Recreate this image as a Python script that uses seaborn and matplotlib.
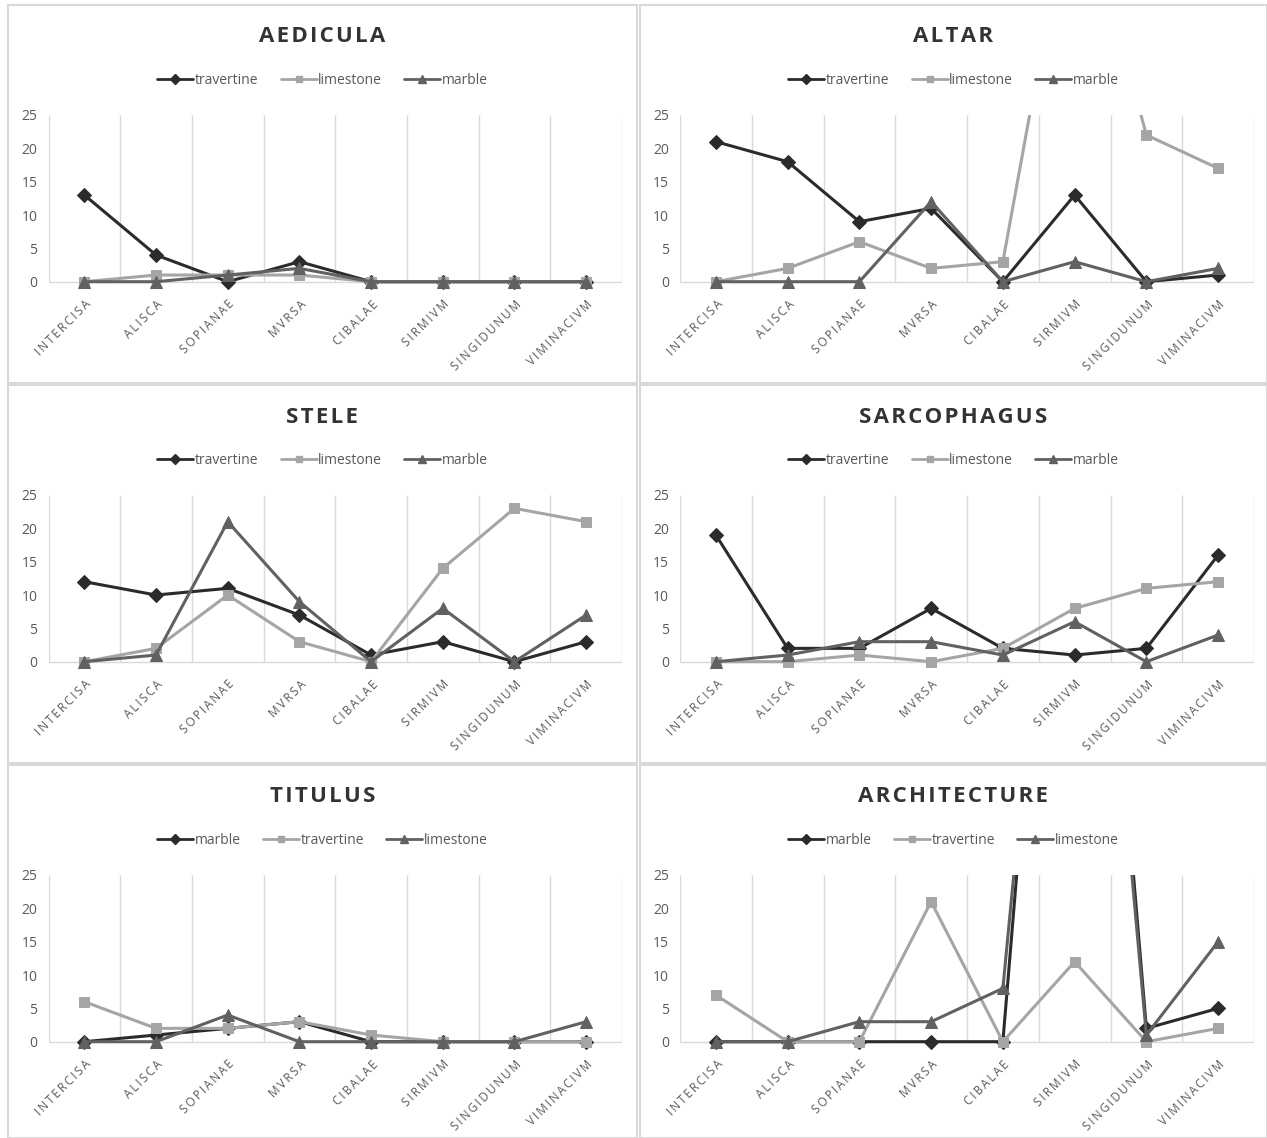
import pandas as pd
import matplotlib.pyplot as plt
import seaborn as sns
from matplotlib.lines import Line2D
from matplotlib.patches import Rectangle

sns.set_theme(style="white")
plt.rcParams['font.family'] = ['Open Sans', 'DejaVu Sans']

sites = ["INTERCISA", "ALISCA", "SOPIANAE", "MVRSA", "CIBALAE", "SIRMIVM", "SINGIDUNUM", "VIMINACIVM"]

aedicula_travertine = [13, 4, 0, 3, 0, 0, 0, 0]
aedicula_limestone = [0, 1, 1, 1, 0, 0, 0, 0]
aedicula_marble = [0, 0, 1, 2, 0, 0, 0, 0]

altar_travertine = [21, 18, 9, 11, 0, 13, 0, 1]
altar_limestone = [0, 2, 6, 2, 3, 62, 22, 17]
altar_marble = [0, 0, 0, 12, 0, 3, 0, 2]

stele_travertine = [12, 10, 11, 7, 1, 3, 0, 3]
stele_limestone = [0, 2, 10, 3, 0, 14, 23, 21]
stele_marble = [0, 1, 21, 9, 0, 8, 0, 7]

sarcophagus_travertine = [19, 2, 2, 8, 2, 1, 2, 16]
sarcophagus_limestone = [0, 0, 1, 0, 2, 8, 11, 12]
sarcophagus_marble = [0, 1, 3, 3, 1, 6, 0, 4]

titulus_marble = [0, 1, 2, 3, 0, 0, 0, 0]
titulus_travertine = [6, 2, 2, 3, 1, 0, 0, 0]
titulus_limestone = [0, 0, 4, 0, 0, 0, 0, 3]

architecture_marble = [0, 0, 0, 0, 0, 130, 2, 5]
architecture_travertine = [7, 0, 0, 21, 0, 12, 0, 2]
architecture_limestone = [0, 0, 3, 3, 8, 120, 1, 15]

panels = [
    ("AEDICULA", ["travertine", "limestone", "marble"],
     [aedicula_travertine, aedicula_limestone, aedicula_marble]),
    ("ALTAR", ["travertine", "limestone", "marble"],
     [altar_travertine, altar_limestone, altar_marble]),
    ("STELE", ["travertine", "limestone", "marble"],
     [stele_travertine, stele_limestone, stele_marble]),
    ("SARCOPHAGUS", ["travertine", "limestone", "marble"],
     [sarcophagus_travertine, sarcophagus_limestone, sarcophagus_marble]),
    ("TITULUS", ["marble", "travertine", "limestone"],
     [titulus_marble, titulus_travertine, titulus_limestone]),
    ("ARCHITECTURE", ["marble", "travertine", "limestone"],
     [architecture_marble, architecture_travertine, architecture_limestone]),
]

# series styles by position in each panel (Excel monochrome look)
styles = [("D", "#2b2b2b", 7.5), ("s", "#a5a5a5", 7), ("^", "#616161", 8)]
text_col = "#595959"

W, H = 1267, 1138
fig = plt.figure(figsize=(W / 100, H / 100), dpi=100)

col_left = [8, 640]
col_right = [637, 1267]
row_top = [5, 385, 765]
row_bot = [383, 763, 1138]
plot_x = [(48.5, 622), (680, 1254)]
zero_y = [281.7, 661.7, 1041.7]
px_per_unit = 166.7 / 25
ymin = -2.0


def spaced(s, sep="\u2009"):
    return sep.join(s)


for i, (title, names, series) in enumerate(panels):
    r, c = divmod(i, 2)
    # panel frame
    fig.patches.append(Rectangle((col_left[c] / W, 1 - row_bot[r] / H),
                                 (col_right[c] - col_left[c]) / W,
                                 (row_bot[r] - row_top[r]) / H,
                                 transform=fig.transFigure, fill=False,
                                 edgecolor="#d9d9d9", linewidth=1.5))

    x0, x1 = plot_x[c]
    top = zero_y[r] - 25 * px_per_unit
    bottom = zero_y[r] - ymin * px_per_unit
    ax = fig.add_axes([x0 / W, 1 - bottom / H, (x1 - x0) / W, (bottom - top) / H])

    handles = []
    for (m, col, ms), name, vals in zip(styles, names, series):
        df = pd.DataFrame({"pos": range(len(sites)), "count": vals})
        sns.lineplot(data=df, x="pos", y="count", ax=ax, color=col, marker=m,
                     markersize=ms, markeredgecolor=col, linewidth=2.2, legend=False)
        handles.append(Line2D([], [], color=col, marker=m, markersize=ms - 2.5,
                              markeredgecolor=col, linewidth=2, label=name))

    ax.set_xlim(-0.5, len(sites) - 0.5)
    ax.set_ylim(ymin, 25)
    for s in ax.spines.values():
        s.set_visible(False)
    ax.grid(False)
    ax.vlines([k - 0.5 for k in range(len(sites) + 1)], 0, 25,
              color="#d9d9d9", linewidth=1, zorder=0)
    ax.hlines(0, -0.5, len(sites) - 0.5, color="#d9d9d9", linewidth=1, zorder=0)

    ax.set_yticks([0, 5, 10, 15, 20, 25])
    ax.set_yticklabels(["0", "5", "10", "15", "20", "25"], color=text_col, fontsize=10)
    ax.set_xticks(range(len(sites)))
    ax.set_xticklabels([spaced(s) for s in sites], rotation=45, ha="right",
                       rotation_mode="anchor", color=text_col, fontsize=8.5)
    ax.tick_params(axis="both", length=0)
    ax.tick_params(axis="y", pad=8)
    ax.tick_params(axis="x", pad=2)
    ax.set_xlabel("")
    ax.set_ylabel("")

    cx = (col_left[c] + col_right[c]) / 2 / W
    fig.text(cx, 1 - (row_top[r] + 32) / H, spaced(title, "\u200a"), ha="center",
             va="center", fontsize=16, fontweight="bold", color="#333333")
    fig.legend(handles=handles, loc="center", ncol=3, frameon=False,
               bbox_to_anchor=(cx, 1 - (row_top[r] + 75) / H),
               fontsize=10, labelcolor=text_col, handlelength=2.6,
               handletextpad=0.1, columnspacing=1.6)

fig.savefig("out.png", dpi=100, facecolor="white")
